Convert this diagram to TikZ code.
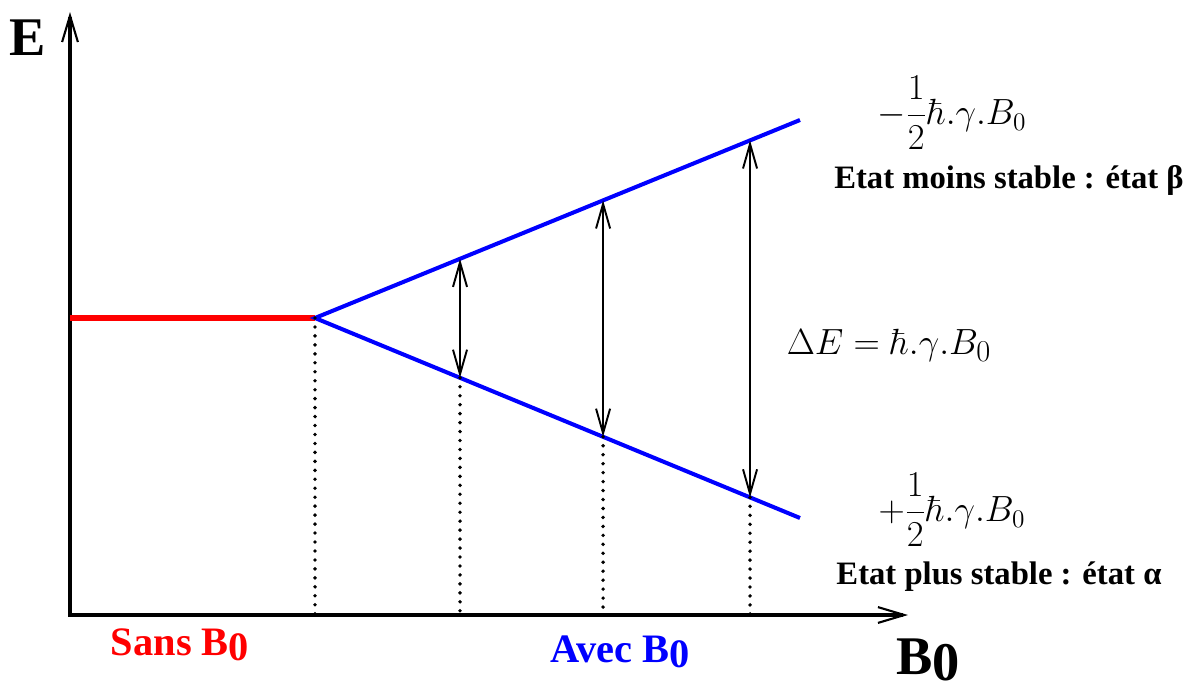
\documentclass[tikz,border=0pt]{standalone}
\usepackage[no-math]{fontspec}
\setmainfont{Liberation Serif}
\usetikzlibrary{calc,arrows.meta}

\tikzset{
  axis/.style={line width=2.3pt,{Straight Barb[length=15pt,width=9pt,line width=1.2pt]}-{Straight Barb[length=15pt,width=9pt,line width=1.2pt]}},
  level/.style={line width=2.3pt},
  gap/.style={line width=1.1pt,{Straight Barb[length=14pt,width=8pt]}-{Straight Barb[length=14pt,width=8pt]}},
  dots/.style={line width=2.2pt,line cap=round,dash pattern=on 0pt off 5.1pt},
  big/.style={font=\bfseries\fontsize{31}{34}\selectfont},
  side/.style={font=\bfseries\fontsize{23}{26}\selectfont},
  state/.style={font=\bfseries\fontsize{18.6}{21}\selectfont},
  eq/.style={font=\fontsize{20.5}{23}\selectfont}
}

\begin{document}
\begin{tikzpicture}[x=0.02cm,y=-0.02cm]
  \useasboundingbox (0,0) rectangle (1188,690);
  \coordinate (O) at (70,615);
  \coordinate (Ytop) at (70,12);
  \coordinate (Xend) at (908,615);
  \coordinate (S0) at (70,318);
  \coordinate (S) at (315,318);
  \coordinate (Hi) at (800,120);
  \coordinate (Lo) at (800,518);
  % axes
  \draw[axis] (Ytop) -- (O) -- (Xend);
  % levels
  \draw[red,line width=3.1pt] (S0) -- (S);
  \draw[blue,level] (Hi) -- (S) -- (Lo);
  \draw[dots] (S) -- (S |- O);
  \foreach \t/\n in {0.299/a,0.594/b,0.897/c}{
    \coordinate (u\n) at ($(S)!\t!(Hi)$);
    \coordinate (l\n) at ($(S)!\t!(Lo)$);
    \draw[gap] (u\n) -- (l\n);
    \draw[dots] (l\n) -- (l\n |- O);
  }
  % labels
  \node[big] (Elab) at (28,38) {E};
  \node[big] (Blab) at (928,660) {B\raisebox{-0.25ex}{0}};
  \node[side,red] (sans) at (180,645) {Sans B\raisebox{-0.25ex}{0}};
  \node[side,blue] (avec) at (620,652) {Avec B\raisebox{-0.25ex}{0}};
  \node[eq] (hiEq) at (952,113) {$\displaystyle -\frac{1}{2}\hbar.\gamma.B_0$};
  \node[state] (hiTxt) at (1009,180) {Etat moins stable : état β};
  \node[eq] (loEq) at (952,510) {$\displaystyle +\frac{1}{2}\hbar.\gamma.B_0$};
  \node[state] (loTxt) at (999,577) {Etat plus stable : état α};
  \node[font=\fontsize{22.7}{25}\selectfont] (dE) at (889,345) {$\Delta E = \hbar.\gamma.B_0$};
\end{tikzpicture}
\end{document}
